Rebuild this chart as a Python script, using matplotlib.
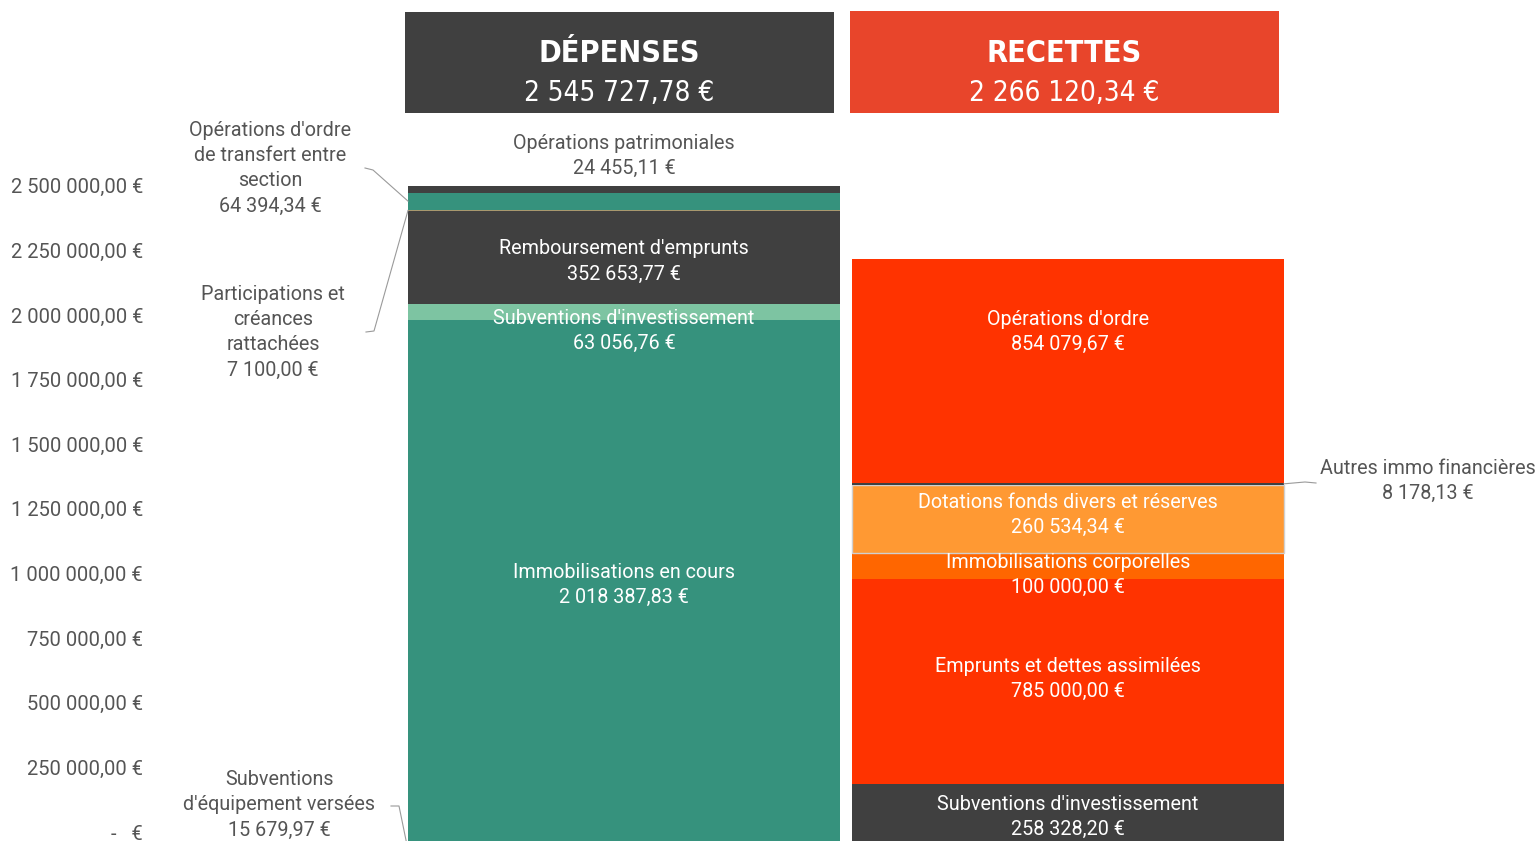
import matplotlib
matplotlib.use('Agg')
import matplotlib.pyplot as plt
from matplotlib import font_manager as fm
from matplotlib.patches import Rectangle
from matplotlib.lines import Line2D
from matplotlib.transforms import ScaledTranslation
from matplotlib.ticker import FixedLocator, FuncFormatter

# ---------------- data ----------------
columns = ['DÉPENSES', 'RECETTES']
column_totals = [2545727.78, 2266120.34]

dep_labels = ["Subventions\nd'équipement versées",
              "Immobilisations en cours",
              "Subventions d'investissement",
              "Remboursement d'emprunts",
              "Participations et\ncréances\nrattachées",
              "Opérations d'ordre\nde transfert entre\nsection",
              "Opérations patrimoniales"]
dep_values = [15679.97, 2018387.83, 63056.76, 352653.77, 7100.00, 64394.34, 24455.11]

rec_labels = ["Subventions d'investissement",
              "Emprunts et dettes assimilées",
              "Immobilisations corporelles",
              "Dotations fonds divers et réserves",
              "Autres immo financières",
              "Opérations d'ordre"]
rec_values = [258328.20, 785000.00, 100000.00, 260534.34, 8178.13, 854079.67]

ytick_values = [0, 250000, 500000, 750000, 1000000, 1250000,
                1500000, 1750000, 2000000, 2250000, 2500000]

# ---------------- styles ----------------
dep_colors = ['#36927D', '#36927D', '#7DC4A2', '#404040', '#A8986E', '#36927D', '#404040']
rec_colors = ['#404040', '#FF3300', '#FF6600', '#FF9933', '#404040', '#FF3300']
rec_edges = [None, None, None, '#D0D0D0', None, None]
header_colors = ['#404040', '#E8452B']

W, H, DPI = 1537, 841, 100
ZERO_PX = 852.0
PX_PER_UNIT = 261.5e-6
AX_LEFT_PX = 150
AX_BOTTOM_PX = 900
BAR_PITCH_PX = 444.0
BAR_W_PX = 432.0
BAR0_CENTER_PX = 624.0

# font selection
_names = {f.name for f in fm.fontManager.ttflist}
_djv_cond = any(f.name == 'DejaVu Sans' and f.stretch in ('condensed', 'semi-condensed')
                for f in fm.fontManager.ttflist)
BODY = 'Roboto' if 'Roboto' in _names else 'DejaVu Sans'
if 'Liberation Sans Narrow' in _names:
    HEAD = dict(family='Liberation Sans Narrow', weight='bold')
    HEAD_SIZE, TOT_SIZE = 27, 24
elif _djv_cond:
    HEAD = dict(family='DejaVu Sans', stretch='condensed', weight='bold')
    HEAD_SIZE, TOT_SIZE = 22, 20
else:
    HEAD = dict(family=BODY, weight='bold')
    HEAD_SIZE, TOT_SIZE = 20, 19
plt.rcParams['font.family'] = [BODY, 'DejaVu Sans']

GRAY_TXT = '#555555'
BODY_SIZE = 14.2
TICK_SIZE = 14.5
LS = 1.42


def fr(v):
    return f"{v:,.2f}".replace(',', ' ').replace('.', ',') + ' €'


def fr_tick(v, pos=None):
    if v == 0:
        return '-   €'
    return fr(v)


fig = plt.figure(figsize=(W / DPI, H / DPI), dpi=DPI)
fig.patch.set_facecolor('white')
ax = fig.add_axes([AX_LEFT_PX / W, 1 - AX_BOTTOM_PX / H,
                   (W - AX_LEFT_PX) / W, AX_BOTTOM_PX / H])
ax.set_ylim((ZERO_PX - AX_BOTTOM_PX) / PX_PER_UNIT, ZERO_PX / PX_PER_UNIT)
ax.set_xlim((AX_LEFT_PX - BAR0_CENTER_PX) / BAR_PITCH_PX,
            (W - BAR0_CENTER_PX) / BAR_PITCH_PX)
for s in ax.spines.values():
    s.set_visible(False)
ax.set_xticks([])
ax.yaxis.set_major_locator(FixedLocator(ytick_values))
ax.yaxis.set_major_formatter(FuncFormatter(fr_tick))
ax.tick_params(axis='y', length=0, pad=5, labelsize=TICK_SIZE, labelcolor=GRAY_TXT)
fig.canvas.draw()
top_tick = max(ytick_values)
for v, lab in zip(ytick_values, ax.get_yticklabels()):
    shift_px = 20 - 7.5 * v / top_tick
    lab.set_transform(lab.get_transform() +
                      ScaledTranslation(0, shift_px / DPI, fig.dpi_scale_trans))

bw = BAR_W_PX / BAR_PITCH_PX

# stacked bars
dep_bottoms = []
b = 0.0
for v, c in zip(dep_values, dep_colors):
    ax.bar(0, v, bottom=b, width=bw, color=c, linewidth=0)
    dep_bottoms.append(b)
    b += v
rec_bottoms = []
b = 0.0
for v, c, e in zip(rec_values, rec_colors, rec_edges):
    if e:
        ax.bar(1, v, bottom=b, width=bw, color=c, edgecolor=e, linewidth=1.0)
    else:
        ax.bar(1, v, bottom=b, width=bw, color=c, linewidth=0)
    rec_bottoms.append(b)
    b += v

# ---------------- labels ----------------
def px2fig(x, y):
    return x / W, 1 - y / H


def data2fig(x, y):
    p = ax.transData.transform((x, y))
    return fig.transFigure.inverted().transform(p)


inside_offsets_px = {  # (column, index): vertical pixel offset of label
    (0, 1): 1, (0, 2): 19, (0, 3): 4,
    (1, 0): -1, (1, 1): -3, (1, 2): 9, (1, 3): -4, (1, 5): -39,
}

for (col, idx), dy in inside_offsets_px.items():
    vals = dep_values if col == 0 else rec_values
    bots = dep_bottoms if col == 0 else rec_bottoms
    labs = dep_labels if col == 0 else rec_labels
    mid = bots[idx] + vals[idx] / 2
    t = ax.text(col, mid, labs[idx] + '\n' + fr(vals[idx]), ha='center', va='center',
                color='white', fontsize=BODY_SIZE, linespacing=LS)
    t.set_transform(ax.transData + ScaledTranslation(0, -dy / DPI, fig.dpi_scale_trans))

# outside labels: (column, index, text centre px, leader start px, elbow px, side)
outside = [
    (0, 6, (624, 156), None, None, None),
    (0, 5, (270, 168), (365, 168), (373, 170), 'left'),
    (0, 4, (273, 332), (366, 332), (374, 331), 'left'),
    (0, 0, (279, 805), (391, 806), (399, 806), 'left'),
    (1, 4, (1428, 481), (1316, 483), (1305, 482), 'right'),
]
for col, idx, cpos, lstart, elbow, side in outside:
    vals = dep_values if col == 0 else rec_values
    bots = dep_bottoms if col == 0 else rec_bottoms
    labs = dep_labels if col == 0 else rec_labels
    fx, fy = px2fig(*cpos)
    fig.text(fx, fy, labs[idx] + '\n' + fr(vals[idx]), ha='center', va='center',
             color=GRAY_TXT, fontsize=BODY_SIZE, linespacing=LS)
    if lstart is None:
        continue
    mid = bots[idx] + vals[idx] / 2
    edge_x = col - bw / 2 if side == 'left' else col + bw / 2
    bx, by = data2fig(edge_x, mid)
    sx, sy = px2fig(*lstart)
    ex, ey = px2fig(*elbow)
    fig.add_artist(Line2D([sx, ex, bx], [sy, ey, by], transform=fig.transFigure,
                          color='#9A9A9A', linewidth=0.8))

# ---------------- headers ----------------
header_boxes_px = [(405, 12, 429, 101), (850, 11, 429, 102)]
extra = {'stretch': HEAD['stretch']} if 'stretch' in HEAD else {}
for name, tot, col, (x0, y0, w, h) in zip(columns, column_totals, header_colors, header_boxes_px):
    fig.add_artist(Rectangle((x0 / W, 1 - (y0 + h) / H), w / W, h / H,
                             transform=fig.transFigure, facecolor=col, edgecolor='none'))
    cx = (x0 + w / 2) / W
    fig.text(cx, 1 - 62 / H, name, ha='center', va='baseline', color='white',
             fontsize=HEAD_SIZE, **HEAD)
    fig.text(cx, 1 - 101 / H, fr(tot), ha='center', va='baseline', color='white',
             fontsize=TOT_SIZE, family=HEAD['family'], **extra)

fig.savefig('out.png', dpi=DPI)
